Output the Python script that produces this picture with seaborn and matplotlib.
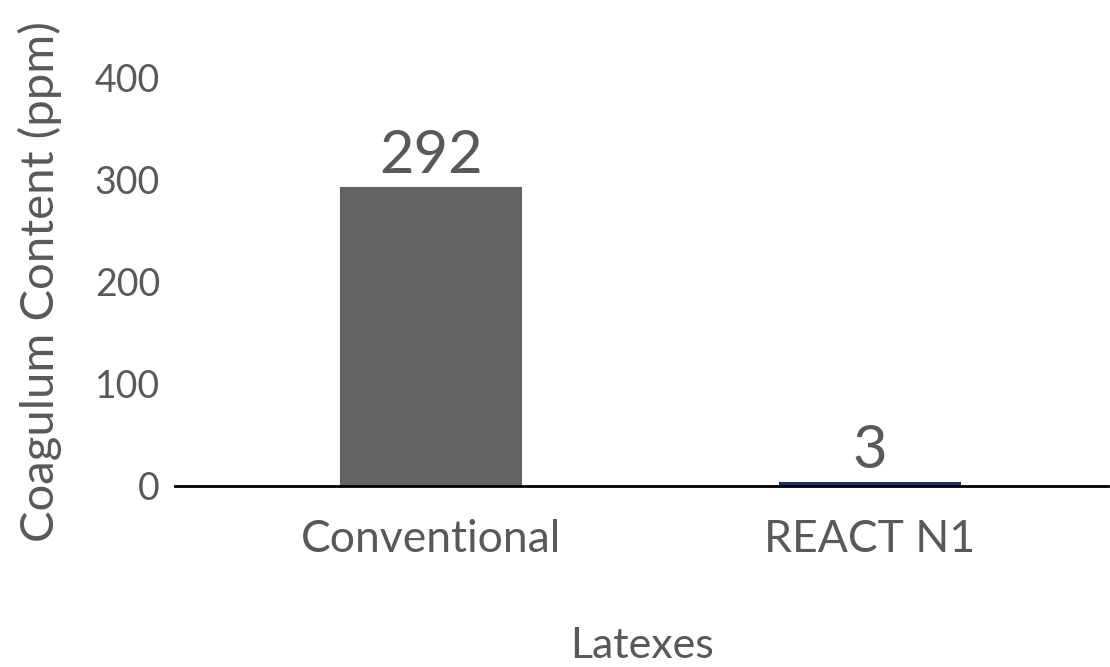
import pandas as pd
import matplotlib.pyplot as plt
import seaborn as sns

# data
categories = ['Conventional', 'REACT N1']
coagulum_ppm = [292, 3]
bar_colors = ['#636363', '#18346F']
y_ticks = [0, 100, 200, 300, 400]

df = pd.DataFrame({'Latexes': categories, 'Coagulum': coagulum_ppm})

sns.set_theme(style='white')
plt.rcParams['font.family'] = ['Lato', 'DejaVu Sans']
text_color = '#595959'

fig = plt.figure(figsize=(11.1, 6.67), dpi=100)
ax = fig.add_axes([0.158, 0.2714, 0.84, 0.612])

sns.barplot(data=df, x='Latexes', y='Coagulum', hue='Latexes',
            palette=bar_colors, width=0.41, legend=False, ax=ax)
for p, c in zip(ax.patches, bar_colors):
    p.set_edgecolor(c)
    p.set_linewidth(1.5)

# value labels
for i, v in enumerate(coagulum_ppm):
    ax.text(i, v + 5, str(v), ha='center', va='bottom',
            fontsize=43, color=text_color)

ax.set_ylim(0, 400)
ax.set_xlim(-0.583, 1.542)
ax.set_yticks(y_ticks)
ax.set_yticklabels([str(t) for t in y_ticks])

for s in ['top', 'right', 'left']:
    ax.spines[s].set_visible(False)
ax.spines['bottom'].set_color('black')
ax.spines['bottom'].set_linewidth(2)

ax.tick_params(axis='y', length=0, pad=11, labelsize=27, labelcolor=text_color)
ax.tick_params(axis='x', length=0, pad=24, labelsize=32, labelcolor=text_color)

ax.set_xlabel('Latexes', fontsize=31, color=text_color, labelpad=48)
ax.set_ylabel('Coagulum Content (ppm)', fontsize=34, color=text_color)
ax.yaxis.set_label_coords(-0.122, 0.5)

fig.savefig('out.png', dpi=100)
